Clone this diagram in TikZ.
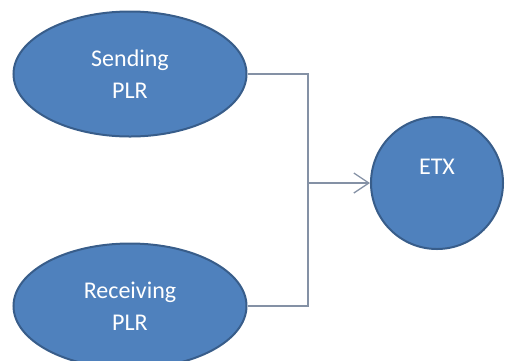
\documentclass[tikz,border=0pt]{standalone}
\usepackage{fontspec}
\setmainfont{Carlito}
\usetikzlibrary{arrows.meta,shapes.geometric}
\definecolor{plrfill}{RGB}{79,129,189}
\definecolor{plrline}{RGB}{56,93,138}
\definecolor{wire}{RGB}{132,145,165}
\begin{document}
\begin{tikzpicture}[x=1pt, y=-1pt,
    plr/.style={ellipse, draw=plrline, fill=plrfill, line width=2pt,
                minimum width=233pt, minimum height=125pt, align=center,
                text=white, font=\fontsize{24}{32}\selectfont},
    hub/.style={circle, draw=plrline, fill=plrfill, line width=2pt,
                minimum size=132pt, align=center,
                text=white, font=\fontsize{24}{32}\selectfont},
    link/.style={draw=wire, line width=1.3pt},
    arr/.style={link, -{Straight Barb[length=15pt, width=20pt, line width=1.3pt]}}
  ]
    \useasboundingbox (0,0) rectangle (508,360);

    \node[plr] (send) at (130,74)  {Sending\\PLR};
    \node[plr] (recv) at (130,306) {Receiving\\PLR};
    \node[hub] (etx)  at (437,183) {ETX\\ };
    \coordinate (join) at (308,183);

    \draw[link] (send.east) -| (join);
    \draw[link] (recv.east) -| (join);
    \draw[arr]  (join) -- (etx.west);
  \end{tikzpicture}
\end{document}
